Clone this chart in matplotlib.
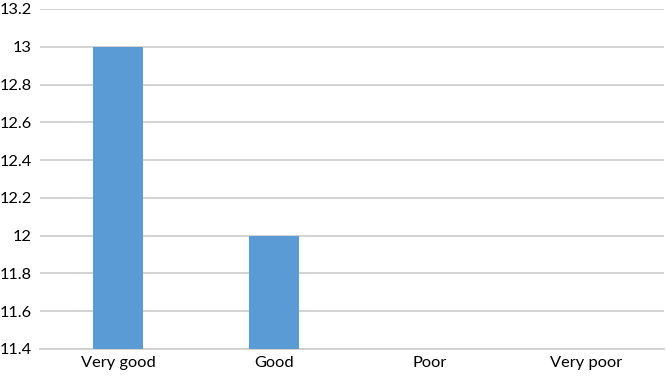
import matplotlib
matplotlib.use("Agg")
import matplotlib.pyplot as plt
import numpy as np

categories = ["Very good", "Good", "Poor", "Very poor"]
values = [13, 12, 0, 0]
yticks = [11.4, 11.6, 11.8, 12.0, 12.2, 12.4, 12.6, 12.8, 13.0, 13.2]
ytick_labels = ["11.4", "11.6", "11.8", "12", "12.2", "12.4", "12.6", "12.8", "13", "13.2"]

plt.rcParams['font.family'] = ['Lato', 'DejaVu Sans']

fig = plt.figure(figsize=(6.66, 3.77), dpi=100)
ax = fig.add_axes([40/666, 28/377, 624/666, 340/377])

x = np.arange(len(categories))
ax.bar(x, values, width=0.32, color="#5B9BD5", zorder=3)
ax.set_xlim(-0.5, len(categories) - 0.5)
ax.set_ylim(11.4, 13.2)
ax.set_yticks(yticks)
ax.set_yticklabels(ytick_labels)
ax.set_xticks(x)
ax.set_xticklabels(categories)
ax.grid(axis="y", color="#D0D0D0", linewidth=1.3, zorder=0)
for s in ["top", "right", "left"]:
    ax.spines[s].set_visible(False)
ax.spines["bottom"].set_color("#D0D0D0")
ax.spines["bottom"].set_linewidth(1.3)
ax.tick_params(axis="both", length=0, labelsize=11.8, colors="black")
ax.tick_params(axis="y", pad=6)
ax.tick_params(axis="x", pad=5)

fig.savefig("out.png", dpi=100)
